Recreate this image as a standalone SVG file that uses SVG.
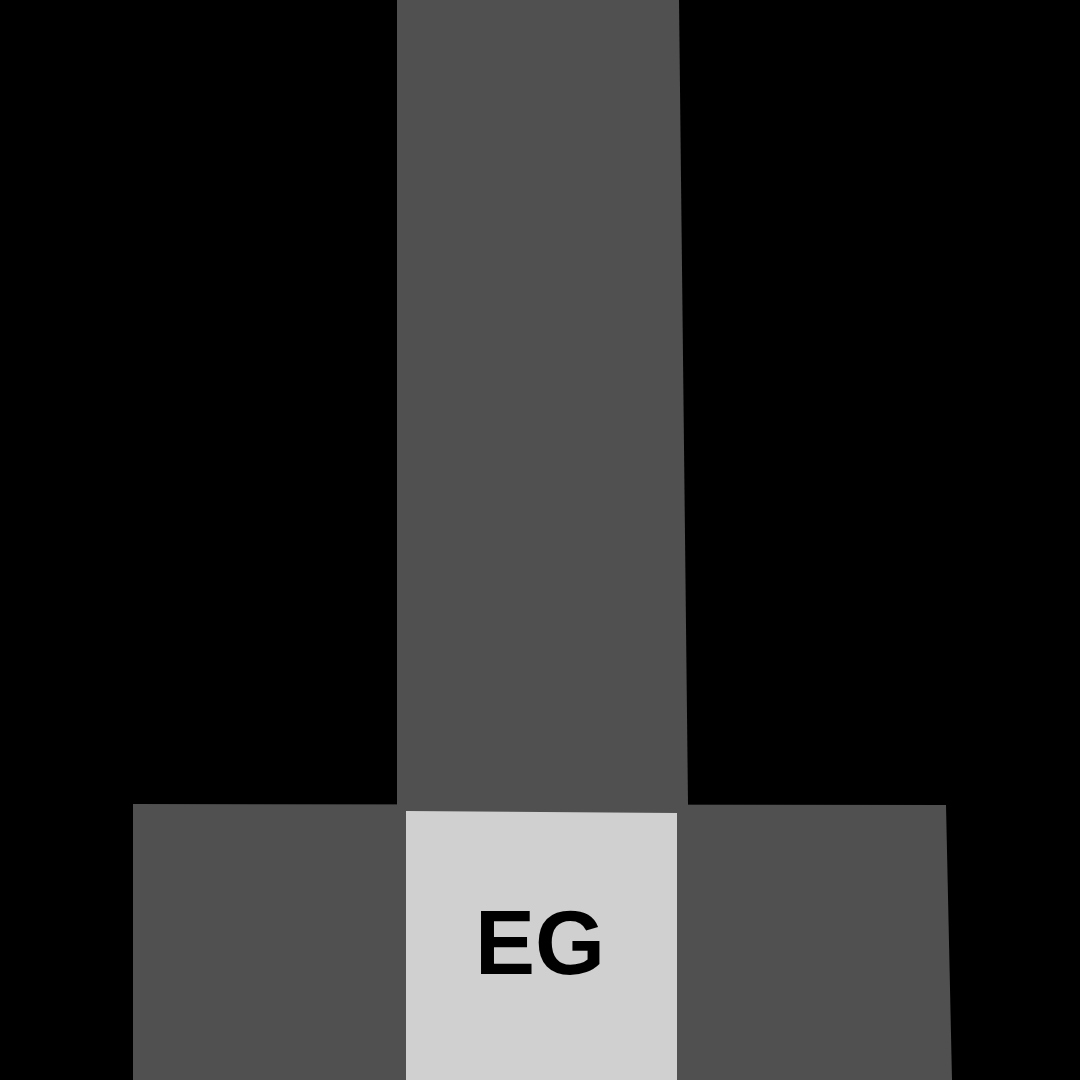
<svg xmlns="http://www.w3.org/2000/svg" width="1080" height="1080" viewBox="0 0 1080 1080">
<style>
.dark{fill:#505050}
.light{fill:#d0d0d0}
.lbl{font-family:"Liberation Sans",Arial,sans-serif;font-weight:bold;font-size:90px;fill:#000;text-anchor:middle}
</style>
<rect x="0" y="0" width="1080" height="1080" fill="#000"/>
<g id="base">
<polygon class="dark" points="133,804 946,805 952,1080 133,1080"/>
</g>
<g id="column">
<polygon class="dark" points="397,0 679,0 688,804 688,810 397,810 397,804"/>
</g>
<g id="eg">
<polygon class="light" points="406,811 677,813 677,1080 406,1080"/>
<text class="lbl" x="540" y="974">EG</text>
</g>
<g id="connectors"/>
</svg>
